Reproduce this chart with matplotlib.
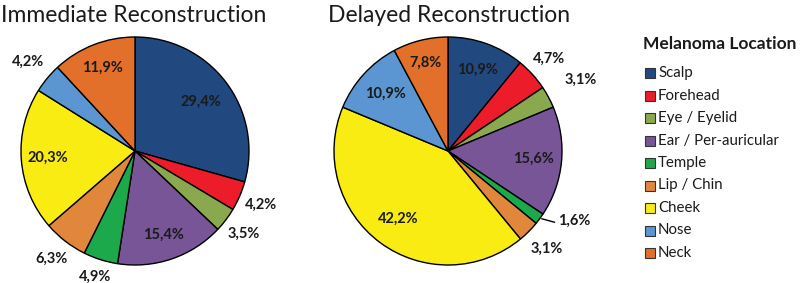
import numpy as np
import matplotlib
matplotlib.use("Agg")
import matplotlib.pyplot as plt

plt.rcParams['font.family'] = ['Lato', 'DejaVu Sans']

categories = ["Scalp", "Forehead", "Eye / Eyelid", "Ear / Per-auricular", "Temple",
              "Lip / Chin", "Cheek", "Nose", "Neck"]
immediate = [29.4, 4.2, 3.5, 15.4, 4.9, 6.3, 20.3, 4.2, 11.9]
delayed = [10.9, 4.7, 3.1, 15.6, 1.6, 3.1, 42.2, 10.9, 7.8]
immediate_labels = ["29,4%", "4,2%", "3,5%", "15,4%", "4,9%", "6,3%", "20,3%", "4,2%", "11,9%"]
delayed_labels = ["10,9%", "4,7%", "3,1%", "15,6%", "1,6%", "3,1%", "42,2%", "10,9%", "7,8%"]

colors = ["#22497f", "#ec1c2b", "#8aa84e", "#775596", "#1ca94c",
          "#e1873c", "#f8ec12", "#5b95d2", "#e2702a"]

# label radial distances (style)
imm_r = [0.72, 1.2, 1.2, 0.78, 1.16, 1.2, 0.77, 1.22, 0.78]
del_r = [0.76, 1.2, 1.32, 0.75, None, 1.22, 0.74, 0.74, 0.80]

W, H = 800, 283
fig = plt.figure(figsize=(W / 100, H / 100), dpi=100)
R = 114


def pie_axes(cx, cy):
    ax = fig.add_axes([(cx - R) / W, (H - cy - R) / H, 2 * R / W, 2 * R / H])
    ax.set_xlim(-1, 1)
    ax.set_ylim(-1, 1)
    ax.axis('off')
    return ax


def draw(ax, vals, labels, radii):
    wedges, _ = ax.pie(vals, colors=colors, startangle=90, counterclock=False,
                       radius=1.0, center=(0, 0),
                       wedgeprops=dict(edgecolor='black', linewidth=1.0))
    ax.set_xlim(-1, 1)
    ax.set_ylim(-1, 1)
    for w, lab, r in zip(wedges, labels, radii):
        ang = np.deg2rad((w.theta1 + w.theta2) / 2)
        if r is None:
            x0, y0 = 1.0 * np.cos(ang), 1.0 * np.sin(ang)
            x1, y1 = x0 + 0.13, y0 - 0.03
            ax.plot([x0 + 0.02, x1], [y0, y1], color='black', lw=1, clip_on=False)
            ax.text(x1 + 0.03, y1 + 0.01, lab, ha='left', va='center', fontsize=10.5,
                    fontweight='bold', color='#1a1a1a', clip_on=False)
        else:
            ax.text(r * np.cos(ang), r * np.sin(ang), lab, ha='center', va='center',
                    fontsize=10.5, fontweight='bold', color='#1a1a1a', clip_on=False)
    return wedges


ax1 = pie_axes(135, 151)
draw(ax1, immediate, immediate_labels, imm_r)
ax2 = pie_axes(448, 151)
draw(ax2, delayed, delayed_labels, del_r)

fig.text(134 / W, 1 - 15 / H, "Immediate Reconstruction", ha='center', va='center',
         fontsize=16.5, color='#1a1a1a')
fig.text(449 / W, 1 - 15 / H, "Delayed Reconstruction", ha='center', va='center',
         fontsize=16.5, color='#1a1a1a')

# legend
fig.text(643 / W, 1 - 44 / H, "Melanoma Location", ha='left', va='center',
         fontsize=12.5, fontweight='bold', color='#1a1a1a')
lax = fig.add_axes([0, 0, 1, 1], facecolor='none')
lax.set_xlim(0, W)
lax.set_ylim(H, 0)
lax.axis('off')
for i, (c, name) in enumerate(zip(colors, categories)):
    y = 73 + i * 22.5
    lax.add_patch(plt.Rectangle((645, y - 5), 10, 10, facecolor=c, edgecolor='#333333', lw=0.8))
    lax.text(658, y, name, ha='left', va='center', fontsize=10.8, color='#1a1a1a')

fig.savefig("out.png", dpi=100)
